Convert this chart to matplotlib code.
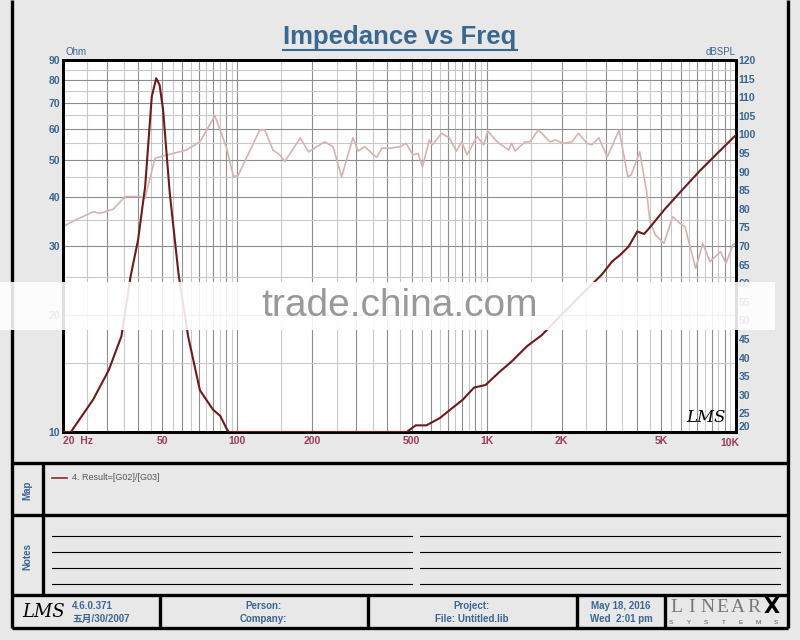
import matplotlib.pyplot as plt
from matplotlib.ticker import FixedLocator, NullLocator
from matplotlib.patches import Rectangle
from matplotlib.transforms import ScaledTranslation

plt.rcParams['font.family'] = ['Liberation Sans', 'Noto Sans CJK SC', 'DejaVu Sans']

# impedance curve (Ohm, left axis)
imp_freq = [20, 21.5, 26.4, 30.5, 34.3, 37.3, 40.0, 42.7, 45.4, 47.3, 48.8, 50.4, 53.6, 58.1, 63.5,
            70.8, 80.0, 85.4, 90.6, 92.5, 478, 519, 573, 648, 732, 802, 890, 990, 1118, 1264,
            1452, 1660, 2000, 2450, 2890, 3190, 3440, 3710, 4020, 4280, 4480, 5220, 6090, 7120,
            8300, 9700, 10000]
imp_ohm = [10, 10, 12.1, 14.4, 17.6, 25.0, 31.1, 42.6, 72.5, 80.8, 77.7, 67.0, 41.0, 25.5, 17.6,
           12.8, 11.4, 11.0, 10.2, 10.0, 10.0, 10.4, 10.4, 10.85, 11.55, 12.1, 13.0, 13.2, 14.2, 15.2,
           16.6, 17.7, 20.0, 22.8, 25.3, 27.4, 28.5, 29.9, 32.7, 32.2, 33.3, 37.5, 41.8, 46.6,
           51.4, 56.7, 57.8]

# SPL curve (dBSPL, right axis)
spl_freq = [20, 22, 26.4, 28.2, 31.8, 35.5, 40.6, 42.6, 46.8, 50.4, 62.6, 70.8, 81.4, 90.6, 96.6,
            101, 123, 129, 139, 148, 155, 179, 193, 224, 242, 262, 291, 305, 324, 362,
            380, 410, 449, 475, 506, 531, 553, 589, 606, 660, 710, 756, 795, 834, 915,
            975, 1009, 1103, 1174, 1225, 1260, 1300, 1424, 1491, 1612, 1796, 1883, 2031, 2195, 2336,
            2525, 2646, 2816, 3046, 3400, 3682, 3800, 4111, 4380, 4520, 4745, 5141, 5570, 5950, 6240,
            6890, 7360, 7860, 8680, 9110, 9720, 10000]
spl_db = [75.2, 76.7, 79.2, 78.8, 79.9, 83.3, 83.3, 82.8, 93.6, 94.2, 95.8, 98.0, 105.0, 96.3, 88.6,
          89.1, 101.2, 101.2, 95.8, 94.5, 92.7, 99.1, 95.3, 98.0, 96.7, 88.6, 99.1, 95.5, 96.7, 93.8,
          96.3, 96.3, 96.7, 97.6, 94.5, 94.9, 91.3, 98.5, 97.2, 100.3, 99.0, 95.5, 98.0, 94.5, 99.4,
          97.2, 100.9, 98.0, 96.7, 95.8, 97.6, 95.5, 98.0, 98.0, 101.2, 98.0, 98.5, 97.6, 98.0, 100.3,
          97.6, 97.2, 99.1, 94.0, 101.2, 88.6, 89.1, 95.3, 84.6, 76.5, 73.0, 70.7, 77.9, 76.1, 75.2,
          64.0, 70.7, 65.8, 68.5, 65.3, 70.3, 70.7]

x_ticks = [20, 50, 100, 200, 500, 1000, 2000, 5000, 10000]
x_labels = ['20  Hz', '50', '100', '200', '500', '1K', '2K', '5K', '10K']
ohm_ticks = [10, 20, 30, 40, 50, 60, 70, 80, 90]
spl_ticks = list(range(20, 125, 5))

W, H = 800, 640
BLUE = '#3b6592'
XCOL = '#9c3b5e'

fig = plt.figure(figsize=(8, 6.4), dpi=100, facecolor='#e8e8e8')

# background frame / panels in pixel coordinates
bg = fig.add_axes([0, 0, 1, 1], zorder=0)
bg.set_xlim(0, W)
bg.set_ylim(H, 0)
bg.axis('off')
thick = dict(color='black', lw=2.4, solid_capstyle='butt')
bg.plot([12, 12], [0, 628], **thick)
bg.plot([788, 788], [0, 628], **thick)
for yy in (463, 515, 595, 628):
    bg.plot([12, 788], [yy, yy], **thick)
bg.plot([43, 43], [463, 595], **thick)
for xx in (160, 368, 577, 665):
    bg.plot([xx, xx], [595, 628], **thick)
for yy in (536, 552, 568, 584):
    bg.plot([52, 412], [yy, yy], color='black', lw=0.8)
    bg.plot([420, 780], [yy, yy], color='black', lw=0.8)

bg.text(27, 490, 'Map', rotation=90, ha='center', va='center', fontsize=7, fontweight='bold', color=BLUE)
bg.text(27, 556, 'Notes', rotation=90, ha='center', va='center', fontsize=7, fontweight='bold', color=BLUE)
bg.plot([52, 67], [478, 478], color='#8b2a2a', lw=1.2)
bg.text(72, 478, '4. Result=[G02]/[G03]', ha='left', va='center', fontsize=6.5, color='#555555')

ft = dict(fontsize=7, fontweight='bold', color=BLUE, va='center')
bg.text(22, 612, 'LMS', fontsize=13, fontstyle='italic', family='DejaVu Serif', va='center', ha='left', color='black')
bg.text(72, 606, '4.6.0.371', ha='left', **ft)
bg.text(72, 619, '五月/30/2007', ha='left', **ft)
bg.text(263, 606, 'Person:', ha='center', **ft)
bg.text(263, 619, 'Company:', ha='center', **ft)
bg.text(472, 606, 'Project:', ha='center', **ft)
bg.text(472, 619, 'File: Untitled.lib', ha='center', **ft)
bg.text(621, 606, 'May 18, 2016', ha='center', **ft)
bg.text(621, 619, 'Wed  2:01 pm', ha='center', **ft)
for i, ch in enumerate('LINEAR'):
    bg.text(676 + i * 15.5, 607, ch, ha='center', va='center', fontsize=14, family='Liberation Serif', color='#777777')
bg.text(772, 607, 'X', ha='center', va='center', fontsize=15, fontweight='bold', family='DejaVu Sans', color='black')
for i, ch in enumerate('SYSTEMS'):
    bg.text(671 + i * 17.5, 622, ch, ha='center', va='center', fontsize=4.5, color='#555555')

title = fig.text(400 / W, 1 - 37 / H, 'Impedance vs Freq', ha='center', va='center',
                 fontsize=18.5, fontweight='bold', color='#3a6891')
fig.text(66 / W, 1 - 52 / H, 'Ohm', ha='left', va='center', fontsize=7, color=BLUE)
fig.text(736 / W, 1 - 52 / H, 'dBSPL', ha='right', va='center', fontsize=7, color=BLUE)

# main plot
rect = [63 / W, 1 - 432 / H, 673 / W, 372 / H]
ax = fig.add_axes(rect, zorder=2)
ax.set_facecolor('white')
ax.set_xscale('log')
ax.set_yscale('log')
ax.set_xlim(20, 10000)
ax.set_ylim(10, 90)

decades = [10, 100, 1000]
major_x = [m * d for d in decades for m in range(1, 10) if 20 <= m * d <= 10000] + [10000]
minor_x = [(m + 0.5) * d for d in decades for m in range(1, 10) if 20 < (m + 0.5) * d < 10000]
for f in minor_x:
    ax.axvline(f, color='#c9c9c9', lw=0.8, zorder=1)
for f in major_x:
    ax.axvline(f, color='#8e8e8e', lw=0.8, zorder=1)
for v in range(15, 90, 10):
    ax.axhline(v, color='#c9c9c9', lw=0.8, zorder=1)
for v in range(20, 90, 10):
    ax.axhline(v, color='#8e8e8e', lw=0.8, zorder=1)

ax.xaxis.set_major_locator(FixedLocator(x_ticks))
ax.xaxis.set_minor_locator(NullLocator())
ax.set_xticklabels(x_labels)
ax.yaxis.set_major_locator(FixedLocator(ohm_ticks))
ax.yaxis.set_minor_locator(NullLocator())
ax.set_yticklabels([str(v) for v in ohm_ticks])
ax.tick_params(axis='x', length=0, pad=3, labelsize=7.5, labelcolor=XCOL)
ax.tick_params(axis='y', length=0, pad=2, labelsize=7.5, labelcolor=BLUE)
for lab in ax.get_xticklabels():
    lab.set_fontweight('bold')
for lab in ax.get_yticklabels():
    lab.set_fontweight('bold')
xlabs = ax.get_xticklabels()
xlabs[0].set_horizontalalignment('left')
xlabs[-1].set_transform(xlabs[-1].get_transform() + ScaledTranslation(-6 / 100, -2 / 100, fig.dpi_scale_trans))
for s in ax.spines.values():
    s.set_linewidth(2)
    s.set_color('black')

ax2 = ax.twinx()
ax2.set_zorder(3)
ax2.set_ylim(20, 120)
ax2.set_yticks(spl_ticks)
ax2.set_yticklabels([str(v) for v in spl_ticks])
ax2.tick_params(axis='y', length=0, pad=2, labelsize=7.5, labelcolor=BLUE)
for lab in ax2.get_yticklabels():
    lab.set_fontweight('bold')
ax2.get_yticklabels()[0].set_verticalalignment('bottom')
for s in ax2.spines.values():
    s.set_linewidth(2)
ax2.plot(spl_freq, spl_db, color='#d8b2b2', lw=1.2)

ax3 = fig.add_axes(rect, zorder=4, sharex=ax, sharey=ax)
ax3.patch.set_visible(False)
ax3.axis('off')
ax3.plot(imp_freq, imp_ohm, color='#6e1a1a', lw=1.5)
ax3.text(0.955, 0.04, 'LMS', transform=ax3.transAxes, ha='center', va='center',
         fontsize=12, fontstyle='italic', family='DejaVu Serif', color='black')

# underline for title
fig.canvas.draw()
bb = title.get_window_extent()
bg.plot([bb.x0, bb.x1], [H - bb.y0 + 1, H - bb.y0 + 1], color='#3a6891', lw=1.5)

# watermark band
wm = fig.add_axes([0, 0, 1, 1], zorder=10)
wm.set_xlim(0, W)
wm.set_ylim(H, 0)
wm.axis('off')
wm.add_patch(Rectangle((0, 282), 775, 48, color='white', alpha=0.88, lw=0))
wm.text(400, 306, 'trade.china.com', ha='center', va='center', fontsize=28, color='#999999')

fig.savefig('out.png', dpi=100, facecolor=fig.get_facecolor())
